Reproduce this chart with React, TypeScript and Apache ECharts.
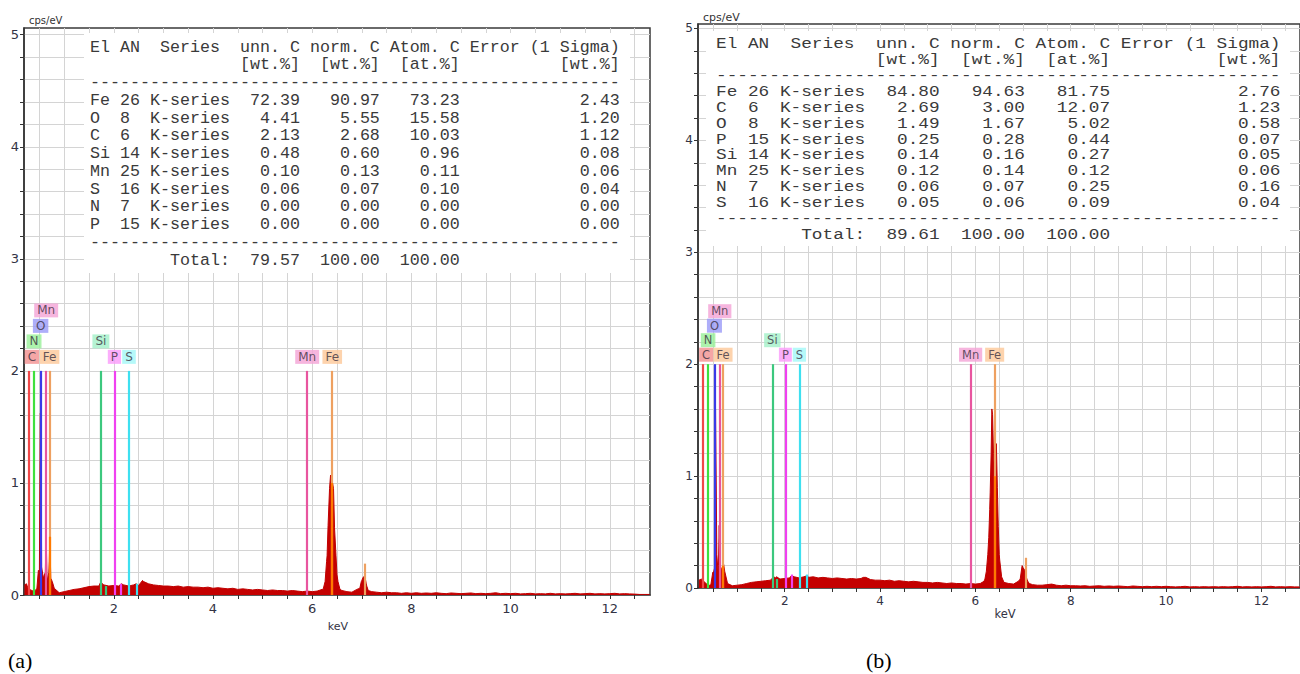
import React, { useEffect, useRef } from "react";
import * as echarts from "echarts";

// ---------- axis ticks ----------
const X_LABELS = [2, 4, 6, 8, 10, 12];
const X_TICKS = [0.5, 1, 1.5, 2, 2.5, 3, 3.5, 4, 4.5, 5, 5.5, 6, 6.5, 7, 7.5, 8, 8.5, 9, 9.5, 10, 10.5, 11, 11.5, 12, 12.5];
const Y_LABELS = [0, 1, 2, 3, 4, 5];
const Y_TICKS = [0, 0.2, 0.4, 0.6, 0.8, 1, 1.2, 1.4, 1.6, 1.8, 2, 2.2, 2.4, 2.6, 2.8, 3, 3.2, 3.4, 3.6, 3.8, 4, 4.2, 4.4, 4.6, 4.8, 5];

// ---------- spectra (cps/eV), channels from 0.2 keV every 0.1 keV ----------
const CH_START = 0.2;
const CH_STEP = 0.1;
const SPEC_A_BASE = [
  0.09, 0.05, 0.03, 0.2, 0.18, 0.3, 0.06, 0.02,
  0.03, 0.04, 0.05, 0.055, 0.065, 0.075, 0.08, 0.08, 0.09, 0.08,
  0.085, 0.08, 0.09, 0.08, 0.09, 0.085, 0.12, 0.1, 0.09, 0.085,
  0.08, 0.08, 0.075, 0.08, 0.07, 0.075, 0.07, 0.07, 0.065, 0.07,
  0.06, 0.065, 0.06, 0.055, 0.06, 0.05, 0.055, 0.05, 0.045, 0.05,
  0.045, 0.04, 0.045, 0.04, 0.04, 0.035, 0.04, 0.035, 0.03, 0.035,
  0.03, 0.035, 0.05, 0.35, 1.02, 0.18, 0.04, 0.03, 0.025, 0.05,
  0.13, 0.08, 0.03, 0.025, 0.02, 0.025, 0.02, 0.02, 0.015, 0.02,
  0.015, 0.02, 0.015, 0.018, 0.015, 0.02, 0.015, 0.012, 0.018, 0.015,
  0.012, 0.015, 0.018, 0.012, 0.015, 0.012, 0.015, 0.02, 0.012, 0.015,
  0.012, 0.015, 0.01, 0.012, 0.015, 0.01, 0.012, 0.01, 0.015, 0.01,
  0.012, 0.01, 0.012, 0.015, 0.01, 0.012, 0.015, 0.01, 0.012, 0.01,
  0.012, 0.015, 0.01, 0.012, 0.01, 0.008, 0.005, 0.005, 0.005,
];
const SPEC_A_PEAKS = [
  [0.24, 0.1], [0.27, 0.06], [0.45, 0.06], [0.48, 0.22], [0.51, 0.2], [0.518, 1.62], [0.532, 1.6], [0.545, 0.25],
  [0.58, 0.15], [0.62, 0.2], [0.635, 0.58], [0.655, 0.12], [0.69, 0.2], [0.71, 0.52], [0.73, 0.15], [0.76, 0.12],
  [1.74, 0.12], [1.77, 0.1], [2.15, 0.1], [2.45, 0.1], [2.58, 0.13],
  [6.22, 0.05], [6.26, 0.12], [6.29, 0.3], [6.32, 0.62], [6.35, 0.95], [6.37, 1.07], [6.39, 1.05], [6.41, 1.0],
  [6.43, 0.95], [6.45, 0.6], [6.48, 0.35], [6.52, 0.12], [6.56, 0.05],
  [6.96, 0.06], [6.99, 0.12], [7.03, 0.16], [7.06, 0.17], [7.09, 0.1], [7.13, 0.04],
];
const SPEC_B_BASE = [
  0.07, 0.06, 0.02, 0.13, 0.15, 0.18, 0.04, 0.02,
  0.025, 0.03, 0.04, 0.05, 0.055, 0.06, 0.065, 0.07, 0.09, 0.08,
  0.085, 0.09, 0.1, 0.09, 0.1, 0.095, 0.1, 0.09, 0.095, 0.09,
  0.085, 0.09, 0.085, 0.08, 0.085, 0.08, 0.085, 0.095, 0.075, 0.07,
  0.07, 0.065, 0.07, 0.06, 0.065, 0.06, 0.055, 0.06, 0.055, 0.05,
  0.05, 0.045, 0.05, 0.045, 0.04, 0.045, 0.04, 0.04, 0.035, 0.04,
  0.035, 0.04, 0.08, 0.7, 1.05, 0.3, 0.05, 0.04, 0.035, 0.06,
  0.18, 0.06, 0.03, 0.025, 0.025, 0.03, 0.035, 0.025, 0.02, 0.025,
  0.02, 0.02, 0.018, 0.02, 0.015, 0.018, 0.02, 0.015, 0.018, 0.015,
  0.018, 0.015, 0.012, 0.018, 0.015, 0.012, 0.015, 0.012, 0.015, 0.012,
  0.015, 0.012, 0.01, 0.012, 0.015, 0.01, 0.012, 0.01, 0.012, 0.01,
  0.012, 0.01, 0.012, 0.01, 0.012, 0.015, 0.01, 0.012, 0.01, 0.012,
  0.01, 0.012, 0.015, 0.01, 0.012, 0.01, 0.012, 0.01, 0.01,
];
const SPEC_B_PEAKS = [
  [0.25, 0.08], [0.45, 0.03], [0.49, 0.14], [0.54, 0.2], [0.548, 1.6], [0.562, 1.6], [0.575, 0.3],
  [0.61, 0.2], [0.625, 0.56], [0.645, 0.2], [0.69, 0.15], [0.715, 0.22], [0.74, 0.15],
  [1.77, 0.1], [1.83, 0.1], [2.14, 0.11], [2.47, 0.11], [3.65, 0.095],
  [6.18, 0.06], [6.23, 0.15], [6.26, 0.3], [6.28, 0.45], [6.31, 0.85], [6.33, 1.2], [6.345, 1.6], [6.36, 1.55],
  [6.38, 1.2], [6.42, 1.15], [6.44, 1.29], [6.46, 0.9], [6.48, 0.55], [6.51, 0.25], [6.55, 0.1], [6.6, 0.05],
  [6.94, 0.08], [6.98, 0.2], [7.02, 0.17], [7.04, 0.15], [7.08, 0.08], [7.13, 0.04],
];

// ---------- element marker lines: [element, keV, top cps/eV] ----------
const MARKERS_A: [string, number, number][] = [
  ["C", 0.277, 2], ["N", 0.392, 2], ["O", 0.525, 2], ["Mn", 0.637, 2], ["Fe", 0.705, 2],
  ["Si", 1.74, 2], ["P", 2.013, 2], ["S", 2.307, 2], ["Mn", 5.899, 2], ["Fe", 6.404, 2],
  ["Si", 1.836, 0.08], ["P", 2.139, 0.1], ["S", 2.464, 0.1], ["Fe", 7.058, 0.28],
];
const MARKERS_B: [string, number, number][] = [
  ["C", 0.277, 2], ["N", 0.392, 2], ["O", 0.525, 2], ["Mn", 0.637, 2], ["Fe", 0.705, 2],
  ["Si", 1.74, 2], ["P", 2.013, 2], ["S", 2.307, 2], ["Mn", 5.899, 2], ["Fe", 6.404, 2],
  ["Si", 1.836, 0.08], ["P", 2.139, 0.12], ["S", 2.464, 0.12], ["Fe", 7.058, 0.27],
];
// part of a marker that lies inside the peak: [element, keV, height]
const INNER_A: [string, number, number][] = [["Fe", 6.404, 1.0], ["Fe", 0.705, 0.52]];
const INNER_B: [string, number, number][] = [["Fe", 6.404, 1.0], ["Fe", 0.705, 0.2]];
// marker labels: [element, keV, stack row]
const LABELS_A: [string, number, number][] = [
  ["Mn", 0.637, 3], ["O", 0.525, 2], ["N", 0.392, 1], ["C", 0.277, 0], ["Fe", 0.705, 0],
  ["Si", 1.74, 1], ["P", 2.013, 0], ["S", 2.307, 0], ["Mn", 5.899, 0], ["Fe", 6.404, 0],
];
const LABELS_B = LABELS_A;

// ---------- quantification tables ----------
const TAB_A_EL = ["Fe", "O", "C", "Si", "Mn", "S", "N", "P"];
const TAB_A_AN = [26, 8, 6, 14, 25, 16, 7, 15];
const TAB_A_UNN = ["72.39", "4.41", "2.13", "0.48", "0.10", "0.06", "0.00", "0.00"];
const TAB_A_NORM = ["90.97", "5.55", "2.68", "0.60", "0.13", "0.07", "0.00", "0.00"];
const TAB_A_ATOM = ["73.23", "15.58", "10.03", "0.96", "0.11", "0.10", "0.00", "0.00"];
const TAB_A_ERR = ["2.43", "1.20", "1.12", "0.08", "0.06", "0.04", "0.00", "0.00"];
const TAB_A_TOTAL = ["79.57", "100.00", "100.00"];

const TAB_B_EL = ["Fe", "C", "O", "P", "Si", "Mn", "N", "S"];
const TAB_B_AN = [26, 6, 8, 15, 14, 25, 7, 16];
const TAB_B_UNN = ["84.80", "2.69", "1.49", "0.25", "0.14", "0.12", "0.06", "0.05"];
const TAB_B_NORM = ["94.63", "3.00", "1.67", "0.28", "0.16", "0.14", "0.07", "0.06"];
const TAB_B_ATOM = ["81.75", "12.07", "5.02", "0.44", "0.27", "0.12", "0.25", "0.09"];
const TAB_B_ERR = ["2.76", "1.23", "0.58", "0.07", "0.05", "0.06", "0.16", "0.04"];
const TAB_B_TOTAL = ["89.61", "100.00", "100.00"];

// ---------- styles ----------
const LINE_COLOR: Record<string, string> = {
  C: "#f04848", N: "#3ee03e", O: "#3a3ae8", Mn: "#e8559f", Fe: "#eea060",
  Si: "#3cc87e", P: "#f040f0", S: "#3ee0f0",
};
const INNER_COLOR: Record<string, string> = { Fe: "#ff7a00" };
const BOX_COLOR: Record<string, string> = {
  C: "#f29090", N: "#98f098", O: "#9a9af8", Mn: "#f4a2d6", Fe: "#fcc898",
  Si: "#a2f0c8", P: "#fa9afa", S: "#a2f8f8",
};
const LABEL_DX: Record<string, number> = { C: 3.5 };

function buildTable(el, an, unn, norm, atom, err, total) {
  const lines = [
    "El AN  Series  unn. C norm. C Atom. C Error (1 Sigma)",
    " ".repeat(15) + "[wt.%]  [wt.%]  [at.%]" + " ".repeat(10) + "[wt.%]",
    "-".repeat(53),
  ];
  el.forEach((e, i) => {
    lines.push(
      e.padEnd(3) + String(an[i]).padEnd(3) + "K-series" + unn[i].padStart(7) +
        norm[i].padStart(8) + atom[i].padStart(8) + err[i].padStart(16)
    );
  });
  lines.push("-".repeat(53));
  lines.push(" ".repeat(8) + "Total:" + total[0].padStart(7) + total[1].padStart(8) + total[2].padStart(8));
  return lines;
}

function buildSpectrum(base: number[], peaks: number[][]) {
  const pts = base.map((v, i) => [Math.round((CH_START + i * CH_STEP) * 1000) / 1000, v]);
  return pts.concat(peaks).sort((a, b) => a[0] - b[0]);
}

const PANELS = [
  {
    grid: { left: 24, top: 28, width: 626, height: 567 },
    xMin: 0.19, xMax: 12.81, yMax: 5.06, fs: 13, xMargin: 7, yMargin: 5,
    base: SPEC_A_BASE, peaks: SPEC_A_PEAKS, markers: MARKERS_A, inner: INNER_A, labels: LABELS_A,
    lvl0: -14, lvlStep: 15.5, lblFs: 12,
    table: buildTable(TAB_A_EL, TAB_A_AN, TAB_A_UNN, TAB_A_NORM, TAB_A_ATOM, TAB_A_ERR, TAB_A_TOTAL),
    tabBox: [84, 33, 546, 240], tabX: 90, tabY: 47, tabDy: 17.75, tabFs: 16.67, tabSx: 1, tabSy: 1,
    unit: [29, 20, 10], kev: [338, 626, 11], caption: ["(a)", 8, 660],
  },
  {
    grid: { left: 698, top: 24, width: 610, height: 564 },
    xMin: 0.18, xMax: 12.81, yMax: 5.04, fs: 12, xMargin: 7, yMargin: 5,
    base: SPEC_B_BASE, peaks: SPEC_B_PEAKS, markers: MARKERS_B, inner: INNER_B, labels: LABELS_B,
    lvl0: -9.5, lvlStep: 14.5, lblFs: 11.5,
    table: buildTable(TAB_B_EL, TAB_B_AN, TAB_B_UNN, TAB_B_NORM, TAB_B_ATOM, TAB_B_ERR, TAB_B_TOTAL),
    tabBox: [706, 31, 584, 215], tabX: 716, tabY: 44, tabDy: 15.9, tabFs: 16.67, tabSx: 1.066, tabSy: 0.92,
    unit: [703, 17, 11], kev: [1005, 614, 11.5], caption: ["(b)", 866, 660],
  },
];

const AXIS_FONT = "DejaVu Sans";
const MONO = '"Liberation Mono", "Courier New", monospace';

export default function App() {
  const ref = useRef<HTMLDivElement>(null);
  useEffect(() => {
    if (!ref.current) return;
    const chart = echarts.init(ref.current, null, { renderer: "svg" });
    const grids: any[] = [];
    const xAxes: any[] = [];
    const yAxes: any[] = [];
    const series: any[] = [];
    const graphics: any[] = [];

    PANELS.forEach((p, k) => {
      grids.push({ ...p.grid, show: true, borderColor: "#3a3a3a", borderWidth: 1.5, containLabel: false });
      xAxes.push({
        type: "value", gridIndex: k, min: p.xMin, max: p.xMax,
        axisLine: { show: true, onZero: false, lineStyle: { color: "#333", width: 1.5 } },
        axisTick: { show: true, customValues: X_TICKS, length: 4, lineStyle: { color: "#333" } },
        axisLabel: { customValues: X_LABELS, fontSize: p.fs, color: "#333344", margin: p.xMargin, fontFamily: AXIS_FONT },
        splitLine: { show: true, lineStyle: { color: "#d4d4d4", width: 1 } },
      });
      yAxes.push({
        type: "value", gridIndex: k, min: 0, max: p.yMax,
        axisLine: { show: true, lineStyle: { color: "#333", width: 1.5 } },
        axisTick: { show: true, customValues: Y_TICKS, length: 4, lineStyle: { color: "#333" } },
        axisLabel: { customValues: Y_LABELS, fontSize: p.fs, color: "#333344", margin: p.yMargin, fontFamily: AXIS_FONT },
        splitLine: { show: true, lineStyle: { color: "#d4d4d4", width: 1 } },
      });
      series.push({
        type: "line", xAxisIndex: k, yAxisIndex: k, silent: true,
        data: buildSpectrum(p.base, p.peaks), symbol: "none",
        lineStyle: { color: "#c00000", width: 1 },
        areaStyle: { color: "#c40000", opacity: 1 }, z: 2,
      });
      series.push({
        type: "lines", coordinateSystem: "cartesian2d", xAxisIndex: k, yAxisIndex: k, silent: true, z: 3,
        data: p.markers.map(([el, e, top]) => ({
          coords: [[e, 0], [e, top]],
          lineStyle: { color: LINE_COLOR[el], width: 2.2, opacity: 1 },
        })),
        lineStyle: { opacity: 1, width: 2.2 },
      });
      series.push({
        type: "lines", coordinateSystem: "cartesian2d", xAxisIndex: k, yAxisIndex: k, silent: true, z: 4,
        data: p.inner.map(([el, e, h]) => ({
          coords: [[e, 0], [e, h]],
          lineStyle: { color: INNER_COLOR[el], width: 2.2, opacity: 1 },
        })),
        lineStyle: { opacity: 1, width: 2.2 },
      });
      series.push({
        type: "scatter", xAxisIndex: k, yAxisIndex: k, silent: true, z: 5,
        symbolSize: 1, itemStyle: { color: "rgba(0,0,0,0)" },
        data: p.labels.map(([el, e, row]) => ({
          name: el, value: [e, 2],
          label: {
            show: true, position: "inside", formatter: "{b}",
            offset: [LABEL_DX[el] || 0, p.lvl0 - row * p.lvlStep],
            backgroundColor: BOX_COLOR[el], padding: [1, 3, 1, 3],
            fontSize: p.lblFs, lineHeight: 12, color: "#3a3040", fontFamily: AXIS_FONT,
          },
        })),
      });

      // table
      const [bx, by, bw, bh] = p.tabBox;
      graphics.push({ type: "rect", z: 100, silent: true, shape: { x: bx, y: by, width: bw, height: bh }, style: { fill: "#ffffff" } });
      p.table.forEach((line, i) => {
        graphics.push({
          type: "text", z: 101, silent: true, x: p.tabX, y: p.tabY + i * p.tabDy, scaleX: p.tabSx, scaleY: p.tabSy,
          style: {
            text: line.replace(/ /g, "\u00a0"), x: 0, y: 0, fill: "#3a3a3a",
            font: `${p.tabFs}px ${MONO}`, align: "left", verticalAlign: "middle",
          },
        });
      });
      graphics.push({
        type: "text", z: 101, silent: true, x: p.unit[0], y: p.unit[1],
        style: { text: "cps/eV", x: 0, y: 0, fill: "#333", font: `${p.unit[2]}px ${AXIS_FONT}`, align: "left", verticalAlign: "middle" },
      });
      graphics.push({
        type: "text", z: 101, silent: true, x: p.kev[0], y: p.kev[1],
        style: { text: "keV", x: 0, y: 0, fill: "#333344", font: `${p.kev[2]}px ${AXIS_FONT}`, align: "center", verticalAlign: "middle" },
      });
      graphics.push({
        type: "text", z: 101, silent: true, x: p.caption[1], y: p.caption[2],
        style: { text: p.caption[0], x: 0, y: 0, fill: "#000", font: `22px "Liberation Serif", "Times New Roman", serif`, align: "left", verticalAlign: "middle" },
      });
    });

    chart.setOption({
      animation: false,
      backgroundColor: "#ffffff",
      grid: grids,
      xAxis: xAxes,
      yAxis: yAxes,
      series,
      graphic: { elements: graphics },
    });
    return () => chart.dispose();
  }, []);
  return (
    <div
      ref={ref}
      style={{ position: "absolute", left: 0, top: 0, width: 1300, height: 674, overflow: "hidden", background: "#fff" }}
    />
  );
}
